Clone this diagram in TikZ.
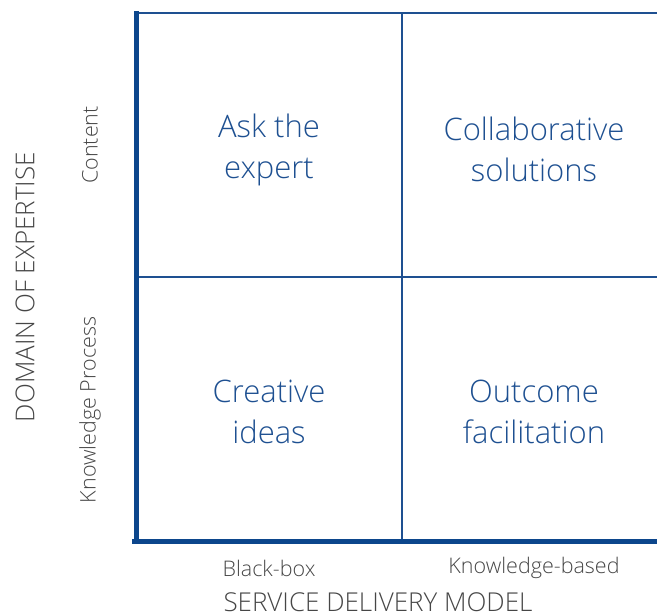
\documentclass[tikz,border=0pt]{standalone}
\usepackage{fontspec}
\setmainfont{Open Sans Light}
\begin{document}
\definecolor{gridblue}{RGB}{30,80,145}
\definecolor{axisblue}{RGB}{12,70,140}
\definecolor{labelgray}{RGB}{70,70,70}
\begin{tikzpicture}[x=1pt,y=-1pt,
  quad/.style={align=center,text=gridblue,font=\fontsize{31}{41}\selectfont},
  tick/.style={text=labelgray,font=\fontsize{21.5}{24}\selectfont},
  axistitle/.style={text=labelgray,font=\fontsize{26}{28}\selectfont},
  thin grid/.style={draw=gridblue,line width=2pt},
  thick axis/.style={draw=axisblue,line width=5pt}]
\useasboundingbox (0,0) rectangle (657,616);
% grid lines
\coordinate (tl) at (136.5,13);
\coordinate (tr) at (657,13);
\coordinate (ml) at (136.5,277);
\coordinate (mr) at (657,277);
\coordinate (mt) at (401.5,13);
\coordinate (mb) at (401.5,541.5);
\coordinate (bl) at (132,541.5);
\coordinate (br) at (657,541.5);
\draw[thin grid] (tl) -- (tr);
\draw[thin grid] (ml) -- (mr);
\draw[thin grid] (mt) -- (mb);
\draw[thick axis] (136.5,11) -- (136.5,544);
\draw[thick axis] (bl) -- (br);
% quadrant labels
\node[quad] (ask) at (269,150) {Ask the\\expert};
\node[quad] (collab) at (534,149) {Collaborative\\solutions};
\node[quad] (creative) at (269,412) {Creative\\ideas};
\node[quad] (outcome) at (534,412) {Outcome\\facilitation};
% axis labels
\node[tick] (bb) at (269,568) {Black-box};
\node[tick] (kb) at (534,568) {Knowledge-based};
\node[axistitle] (sdm) at (378,602) {SERVICE DELIVERY MODEL};
\node[tick,rotate=90] (content) at (90,145) {Content};
\node[tick,rotate=90] (kp) at (90,410) {Knowledge Process};
\node[axistitle,rotate=90] (doe) at (25,287) {DOMAIN OF EXPERTISE};
\end{tikzpicture}
\end{document}
